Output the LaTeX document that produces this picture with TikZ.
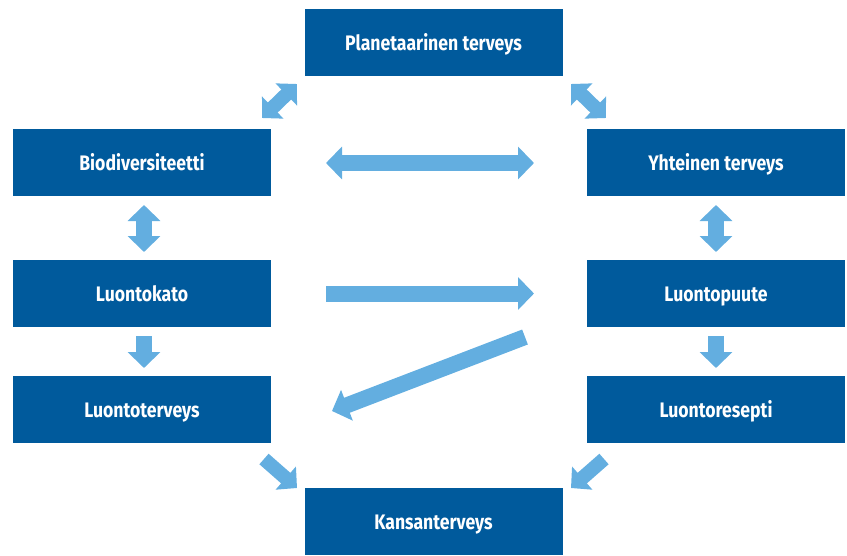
\documentclass[tikz,border=0pt]{standalone}
\usepackage{fontspec}
\setmainfont{Fira Sans}[FakeStretch=0.84]
\usetikzlibrary{arrows.meta}
\definecolor{boxblue}{HTML}{005A9C}
\definecolor{arrblue}{HTML}{63AEE0}
\tikzset{
  bx/.style={fill=boxblue, draw=none, minimum width=258pt, minimum height=67pt, inner sep=0pt, text height=18pt, text depth=3pt, text=white, font=\fontsize{21}{24}\selectfont\bfseries},
  barr/.style={draw=arrblue, line width=16pt, -{Triangle[width=32pt,length=16pt]}},
  dbarr/.style={draw=arrblue, line width=16pt, {Triangle[width=32pt,length=16pt]}-{Triangle[width=32pt,length=16pt]}},
  sarr/.style={draw=arrblue, line width=14pt, -{Triangle[width=30pt,length=15pt]}},
  sdarr/.style={draw=arrblue, line width=14pt, {Triangle[width=30pt,length=15pt]}-{Triangle[width=30pt,length=15pt]}},
}
\begin{document}
\begin{tikzpicture}[x=1pt,y=-1pt]
\useasboundingbox (0,0) rectangle (847,555);
\node[bx] (plan) at (433.5,42.5) {Planetaarinen terveys};
\node[bx] (bio) at (142,162.5) {Biodiversiteetti};
\node[bx] (yht) at (716,162.5) {Yhteinen terveys};
\node[bx] (kato) at (142,293.5) {Luontokato};
\node[bx] (puute) at (716,293.5) {Luontopuute};
\node[bx] (lter) at (142,409.5) {Luontoterveys};
\node[bx] (resep) at (716,409.5) {Luontoresepti};
\node[bx] (kans) at (433.5,521.5) {Kansanterveys};
% arrow endpoints
\coordinate (h1a) at (326,163); \coordinate (h1b) at (534,163);
\coordinate (h2a) at (326,293.5); \coordinate (h2b) at (534,293.5);
\coordinate (dga) at (525,337); \coordinate (dgb) at (332,411);
\coordinate (v1a) at (144,205); \coordinate (v1b) at (144,252);
\coordinate (v2a) at (716,205); \coordinate (v2b) at (716,252);
\coordinate (v3a) at (144,336); \coordinate (v3b) at (144,368);
\coordinate (v4a) at (716,336); \coordinate (v4b) at (716,368);
\coordinate (tla) at (262,118); \coordinate (tlb) at (297,84);
\coordinate (tra) at (571,84); \coordinate (trb) at (606,118);
\coordinate (bla) at (264,459); \coordinate (blb) at (297,488);
\coordinate (bra) at (604,459); \coordinate (brb) at (571,488);
\draw[dbarr] (h1a) -- (h1b);
\draw[barr] (h2a) -- (h2b);
\draw[barr] (dga) -- (dgb);
\draw[dbarr] (v1a) -- (v1b);
\draw[dbarr] (v2a) -- (v2b);
\draw[barr] (v3a) -- (v3b);
\draw[barr] (v4a) -- (v4b);
\draw[sdarr] (tla) -- (tlb);
\draw[sdarr] (tra) -- (trb);
\draw[sarr] (bla) -- (blb);
\draw[sarr] (bra) -- (brb);
\end{tikzpicture}
\end{document}
